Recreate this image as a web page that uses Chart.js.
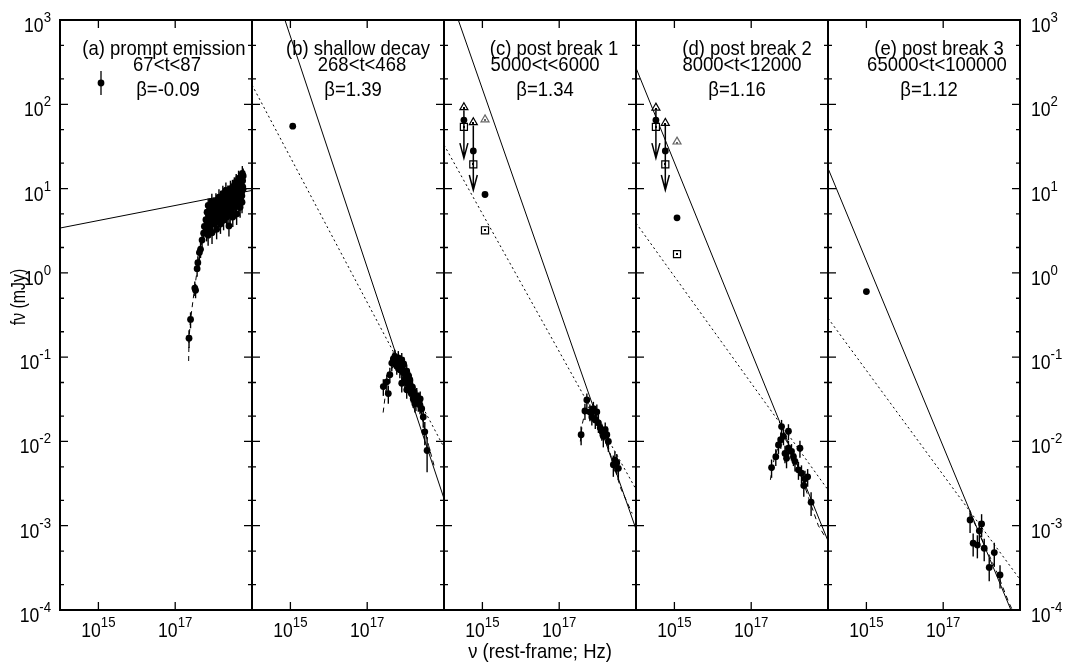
<!DOCTYPE html>
<html>
<head>
<meta charset="utf-8">
<script src="https://cdn.jsdelivr.net/npm/chart.js@4.4.1/dist/chart.umd.min.js"></script>
<style>
  html, body { margin: 0; background: #fff; }
  canvas { display: block; }
</style>
</head>
<body>
<canvas id="sed" width="1070" height="666"></canvas>
<script>
// panel labels
const panelNames = ['(a) prompt emission', '(b) shallow decay', '(c) post break 1', '(d) post break 2', '(e) post break 3'];
const panelTimes = ['67<t<87', '268<t<468', '5000<t<6000', '8000<t<12000', '65000<t<100000'];
const panelBetas = ['\u03b2=-0.09', '\u03b2=1.39', '\u03b2=1.34', '\u03b2=1.16', '\u03b2=1.12'];

// axis ranges and ticks
const nuRange = [1e14, 1e19];
const fluxRange = [1e-4, 1e3];
const nuTicks = [1e15, 1e17];
const fluxDecades = [1e-4, 1e-3, 1e-2, 1e-1, 1e0, 1e1, 1e2, 1e3];

// (a) prompt emission, X-ray / gamma spectrum
const aNu = [2.29e17, 2.51e17, 3.24e17, 3.39e17, 3.72e17, 3.89e17, 4.27e17, 4.57e17, 5.01e17, 5.5e17, 5.75e17, 6.31e17, 6.76e17, 7.24e17,
  6.6e17, 6.9e17, 7.2e17, 7.6e17, 7.9e17, 8.3e17, 8.7e17, 9.1e17, 9.5e17, 1.0e18, 1.05e18, 1.1e18, 1.15e18, 1.2e18, 1.26e18, 1.32e18,
  1.38e18, 1.45e18, 1.51e18, 1.58e18, 1.66e18, 1.74e18, 1.82e18, 1.9e18, 2.0e18, 2.09e18, 2.19e18, 2.29e18, 2.4e18, 2.51e18, 2.63e18,
  2.75e18, 2.88e18, 3.02e18, 3.16e18, 3.31e18, 3.47e18, 3.63e18, 3.8e18, 3.98e18, 4.17e18, 4.37e18, 4.57e18, 4.79e18, 5.01e18, 5.25e18,
  5.5e18, 5.75e18, 5.9e18, 5.6e18, 5.37e18, 5.13e18, 4.9e18, 4.47e18, 1.3e18, 1.7e18, 2.2e18, 2.7e18, 3.3e18, 3.9e18, 4.6e18, 8.0e17, 9.0e17,
  7.0e17, 7.4e17, 7.8e17, 8.1e17, 8.5e17, 8.9e17, 9.3e17, 9.8e17, 1.02e18, 1.08e18, 1.12e18, 1.18e18, 1.23e18, 1.28e18, 1.35e18, 1.42e18,
  1.48e18, 1.55e18, 1.62e18, 1.7e18, 1.78e18, 1.86e18, 1.95e18, 2.05e18, 2.15e18, 2.25e18, 2.35e18, 2.45e18, 2.58e18, 2.7e18, 2.82e18,
  2.95e18, 3.1e18, 3.25e18, 3.4e18, 3.55e18, 3.7e18, 3.88e18, 4.05e18, 4.25e18, 4.45e18, 4.65e18, 4.85e18, 5.05e18, 5.3e18, 5.45e18, 5.7e18, 5.85e18];
const aFlux = [0.168, 0.28, 0.66, 0.62, 1.12, 1.32, 1.74, 1.9, 2.45, 2.95, 3.55, 4.27, 5.25, 6.3,
  3.16, 3.8, 2.8, 4.6, 3.5, 5.5, 4.2, 3.0, 5.0, 6.3, 3.8, 4.8, 7.1, 3.3, 5.6, 4.4,
  7.9, 5.0, 3.8, 6.6, 5.8, 8.7, 4.2, 7.2, 5.2, 9.5, 4.6, 6.3, 7.9, 3.6, 6.9,
  10, 5.5, 8.3, 4.6, 7.2, 11, 6.0, 8.9, 5.0, 11.5, 7.6, 6.3, 10, 7.9, 12.6,
  6.9, 10.5, 14.1, 15.1, 9.1, 12, 6.0, 13.2, 6.0, 7.0, 6.6, 8.0, 9.5, 10.5, 9.0, 6.2, 7.0,
  4.0, 5.0, 3.9, 4.6, 6.0, 5.2, 4.0, 5.6, 4.6, 6.0, 4.0, 5.4, 6.8, 4.9, 5.9, 6.5,
  4.5, 7.6, 4.9, 5.4, 7.8, 5.9, 8.4, 6.5, 7.6, 5.2, 8.8, 6.0, 7.5, 5.0, 9.0,
  6.6, 10.2, 6.0, 8.0, 9.8, 7.0, 12.0, 8.4, 9.6, 11.0, 7.2, 11.8, 9.4, 10.8, 8.2, 12.4, 9.8];
const aErr = [0.04, 0.06, 0.13, 0.12, 0.22, 0.25, 0.35, 0.4, 0.5, 0.6, 0.7, 0.9, 1.1, 1.3,
  0.8, 0.9, 0.7, 1.1, 0.9, 1.3, 1.0, 0.8, 1.2, 1.5, 0.9, 1.2, 1.7, 0.8, 1.3, 1.1,
  1.9, 1.2, 0.9, 1.6, 1.4, 2.1, 1.0, 1.7, 1.3, 2.3, 1.1, 1.5, 1.9, 0.9, 1.7,
  2.4, 1.3, 2.0, 1.1, 1.7, 2.6, 1.5, 2.2, 1.3, 2.8, 1.9, 1.6, 2.5, 2.0, 3.0,
  1.8, 2.6, 3.2, 3.4, 2.3, 2.9, 1.5, 3.1, 1.4, 1.6, 1.6, 1.9, 2.3, 2.5, 2.2, 1.5, 1.7,
  1.0, 1.2, 1.0, 1.1, 1.4, 1.3, 1.0, 1.3, 1.1, 1.4, 1.0, 1.3, 1.6, 1.2, 1.4, 1.6,
  1.1, 1.8, 1.2, 1.3, 1.8, 1.4, 2.0, 1.6, 1.8, 1.3, 2.1, 1.5, 1.8, 1.3, 2.2,
  1.6, 2.5, 1.5, 2.0, 2.4, 1.8, 2.9, 2.1, 2.4, 2.7, 1.8, 2.9, 2.4, 2.7, 2.1, 3.0, 2.5];
const aModelNu = [2.24e17, 2.29e17, 2.51e17, 3.16e17, 3.98e17, 5.01e17, 7.08e17, 1e18, 2e18, 3.98e18, 6e18];
const aModelFlux = [0.09, 0.166, 0.28, 0.63, 1.32, 2.4, 4.17, 5.6, 7.6, 9.3, 10];

// (b) shallow decay
const bNu = [2.63e17, 3.24e17, 3.55e17, 3.89e17, 4.37e17, 4.79e17, 5.25e17, 5.62e17, 5.89e17, 6.46e17, 7.08e17, 7.94e17, 7.94e17, 8.71e17,
  8.91e17, 9.55e17, 1.0e18, 1.07e18, 1.07e18, 1.17e18, 1.2e18, 1.29e18, 1.41e18, 1.51e18, 1.58e18, 1.74e18, 1.86e18, 1.95e18, 2.14e18,
  2.37e18, 2.4e18, 2.63e18, 2.88e18, 3.16e18, 3.63e18, 6.8e17, 8.3e17, 1.12e18, 1.35e18, 1.66e18, 2.25e18];
const bFlux = [0.0447, 0.051, 0.037, 0.062, 0.085, 0.095, 0.102, 0.087, 0.078, 0.098, 0.071, 0.093, 0.049, 0.065,
  0.083, 0.054, 0.06, 0.068, 0.041, 0.047, 0.06, 0.054, 0.037, 0.044, 0.032, 0.028, 0.030, 0.035, 0.0295,
  0.027, 0.032, 0.0245, 0.0195, 0.013, 0.0078, 0.084, 0.077, 0.052, 0.046, 0.039, 0.031];
const bErr = [0.010, 0.011, 0.009, 0.013, 0.017, 0.019, 0.02, 0.018, 0.016, 0.02, 0.015, 0.019, 0.011, 0.014,
  0.017, 0.012, 0.013, 0.014, 0.009, 0.01, 0.013, 0.012, 0.008, 0.01, 0.007, 0.006, 0.007, 0.008, 0.007,
  0.006, 0.007, 0.006, 0.005, 0.004, 0.0035, 0.017, 0.016, 0.011, 0.01, 0.008, 0.007];
const bModelNu = [2.6e17, 3.16e17, 3.98e17, 5.62e17, 7.94e17, 1.26e18, 2e18, 3.16e18, 3.98e18, 5.62e18];
const bModelFlux = [0.022, 0.045, 0.068, 0.089, 0.085, 0.056, 0.032, 0.014, 0.0089, 0.005];
const bOptNu = [1.15e15];
const bOptFlux = [55];

// (c) post break 1
const cNu = [3.72e17, 4.68e17, 5.25e17, 6.31e17, 7.08e17, 7.76e17, 8.71e17, 9.55e17, 1.05e18, 1.17e18, 1.29e18, 1.41e18, 1.58e18,
  1.74e18, 1.91e18, 2.57e18, 2.82e18, 3.16e18, 3.47e18];
const cFlux = [0.012, 0.023, 0.031, 0.0224, 0.0195, 0.0245, 0.018, 0.0224, 0.0166, 0.0145, 0.0132, 0.0115, 0.0138,
  0.012, 0.010, 0.0053, 0.006, 0.0056, 0.0048];
const cErr = [0.003, 0.005, 0.006, 0.005, 0.004, 0.005, 0.004, 0.005, 0.004, 0.003, 0.003, 0.003, 0.003,
  0.003, 0.0025, 0.0015, 0.0016, 0.0015, 0.0013];
const cModelNu = [3.55e17, 3.98e17, 5.01e17, 7.08e17, 1e18, 1.58e18, 2.51e18, 3.98e18, 7.94e18];
const cModelFlux = [0.01, 0.016, 0.025, 0.026, 0.02, 0.0112, 0.0056, 0.0028, 0.0014];

// optical / UV points for (c) and (d)
const optNu = [3.3e14, 5.8e14, 1.17e15];
const cTriFlux = [92, 61, 66];
const cDotFlux = [65, 28, 8.5];
const cSqFlux = [54, 19.4, 3.2];
const dTriFlux = [91, 60, 36];
const dDotFlux = [65, 28, 4.5];
const dSqFlux = [54, 19.4, 1.67];
const limitTo = [23, 9.6, null];

// (d) post break 2
const dNu = [3.39e17, 4.37e17, 5.13e17, 5.89e17, 6.17e17, 6.92e17, 7.59e17, 8.32e17, 9.33e17, 9.33e17, 1.12e18, 1.26e18, 1.38e18,
  1.7e18, 1.86e18, 2.04e18, 2.34e18, 2.51e18, 2.95e18, 3.63e18];
const dFlux = [0.0049, 0.0066, 0.0091, 0.0105, 0.015, 0.0115, 0.0072, 0.0063, 0.0132, 0.0083, 0.0076, 0.0066, 0.0058,
  0.0046, 0.0083, 0.0042, 0.003, 0.0036, 0.0038, 0.0019];
const dErr = [0.0012, 0.0015, 0.002, 0.0023, 0.003, 0.0025, 0.0017, 0.0015, 0.0028, 0.0019, 0.0017, 0.0015, 0.0014,
  0.0011, 0.0019, 0.001, 0.0008, 0.0009, 0.0009, 0.0006];
const dModelNu = [3.16e17, 3.98e17, 5.62e17, 7.94e17, 1.26e18, 2e18, 3.16e18, 5.62e18, 8.9e18];
const dModelFlux = [0.0035, 0.0063, 0.01, 0.0105, 0.0071, 0.004, 0.0021, 0.001, 0.00071];

// (e) post break 3
const eNu = [5.01e17, 1.0e18, 8.71e17, 6.03e17, 7.76e17, 1.17e18, 2.14e18, 1.58e18, 3.02e18];
const eFlux = [1.17e-3, 1.05e-3, 8.7e-4, 6.2e-4, 5.9e-4, 5.4e-4, 4.8e-4, 3.2e-4, 2.6e-4];
const eErr = [3.5e-4, 3.2e-4, 2.6e-4, 1.9e-4, 1.8e-4, 1.6e-4, 1.5e-4, 1.0e-4, 0.8e-4];
const eModelNu = [5e17, 7.9e17, 1.26e18, 2.51e18, 5e18, 7.1e18];
const eModelFlux = [1.4e-3, 8.9e-4, 5.6e-4, 2.8e-4, 1.26e-4, 8.9e-5];
const eOptNu = [1e15];
const eOptFlux = [0.6];

// power-law fits (solid) and the same shifted by 0.5 (dotted), at nuRange ends
const solidFlux = [[3.4, 9.5], [1.5e4, 2.1e-3], [3060, 9.1e-4], [270, 6.6e-4], [17.4, 5.5e-5]];
const dottedFlux = [null, [170, 8.5e-3], [33, 2.7e-3], [3.9, 2.66e-3], [0.29, 2.3e-4]];

const FONT = '"Liberation Sans", Arial, sans-serif';

function pts(xs, ys) {
  return xs.map((x, i) => ({ x: x, y: ys[i] }));
}

function xray(p, nu, flux, err) {
  return { xAxisID: 'x' + p, data: pts(nu, flux), errs: err, pointStyle: 'circle', pointRadius: 3.4,
    backgroundColor: '#000', borderColor: '#000', borderWidth: 0 };
}
function dots(p, nu, flux) {
  return { xAxisID: 'x' + p, data: pts(nu, flux), pointStyle: 'circle', pointRadius: 3.4,
    backgroundColor: '#000', borderColor: '#000', borderWidth: 0 };
}
function hollow(p, nu, flux, style, radius, colors, arrows) {
  return { xAxisID: 'x' + p, data: pts(nu, flux), pointStyle: style, pointRadius: radius,
    backgroundColor: '#fff', borderColor: colors, borderWidth: 1.2, centerDot: true, arrowTo: arrows };
}
function curve(p, nu, flux, dash) {
  return { xAxisID: 'x' + p, data: pts(nu, flux), showLine: true, pointRadius: 0, borderColor: '#000',
    borderWidth: 1, borderDash: dash, fill: false };
}

const triColors = ['#000', '#000', '#666'];
const datasets = [
  hollow(2, optNu, cTriFlux, 'triangle', 4.6, triColors, limitTo),
  hollow(3, optNu, dTriFlux, 'triangle', 4.6, triColors, limitTo),
  dots(2, optNu, cDotFlux),
  dots(3, optNu, dDotFlux),
  hollow(2, optNu, cSqFlux, 'rect', 5, '#000', null),
  hollow(3, optNu, dSqFlux, 'rect', 5, '#000', null),
  xray(0, aNu, aFlux, aErr),
  xray(1, bNu, bFlux, bErr),
  xray(2, cNu, cFlux, cErr),
  xray(3, dNu, dFlux, dErr),
  xray(4, eNu, eFlux, eErr),
  dots(1, bOptNu, bOptFlux),
  dots(4, eOptNu, eOptFlux),
  curve(0, aModelNu, aModelFlux, [5, 4]),
  curve(1, bModelNu, bModelFlux, [5, 4]),
  curve(2, cModelNu, cModelFlux, [5, 4]),
  curve(3, dModelNu, dModelFlux, [5, 4]),
  curve(4, eModelNu, eModelFlux, [5, 4])
];
solidFlux.forEach((f, p) => datasets.push(curve(p, nuRange, f, [])));
dottedFlux.forEach((f, p) => { if (f) datasets.push(curve(p, nuRange, f, [2, 3])); });

// text drawn slightly condensed, like the original postscript output
function say(ctx, s, x, y, size, align) {
  ctx.save();
  ctx.translate(x, y);
  ctx.scale(0.88, 1);
  ctx.font = size + 'px ' + FONT;
  ctx.textAlign = align || 'center';
  ctx.textBaseline = 'alphabetic';
  ctx.fillStyle = '#000';
  ctx.fillText(s, 0, 0);
  ctx.restore();
}
function power(ctx, value, x, y, align) {
  const exp = String(Math.round(Math.log10(value)));
  ctx.font = '20px ' + FONT;
  const w1 = ctx.measureText('10').width * 0.88;
  ctx.font = '15px ' + FONT;
  const w2 = ctx.measureText(exp).width * 0.88;
  const left = align === 'right' ? x - w1 - w2 : align === 'left' ? x : x - (w1 + w2) / 2;
  say(ctx, '10', left, y, 20, 'left');
  say(ctx, exp, left + w1, y - 10, 15, 'left');
}

const sedFrame = {
  id: 'sedFrame',
  beforeDatasetsDraw(chart) {
    const ctx = chart.ctx, ys = chart.scales.y, area = chart.chartArea;
    ctx.save();
    ctx.strokeStyle = '#000';
    ctx.lineWidth = 1.4;
    chart.data.datasets.forEach((ds, di) => {
      if (!ds.errs) return;
      chart.getDatasetMeta(di).data.forEach((pt, i) => {
        const v = ds.data[i].y, e = ds.errs[i];
        const top = ys.getPixelForValue(v + e);
        const bot = v - e > 0 ? Math.min(ys.getPixelForValue(v - e), area.bottom) : area.bottom;
        ctx.beginPath();
        ctx.moveTo(pt.x, top);
        ctx.lineTo(pt.x, bot);
        ctx.stroke();
      });
    });
    ctx.restore();
  },
  afterDatasetsDraw(chart) {
    const ctx = chart.ctx, ys = chart.scales.y;
    ctx.save();
    chart.data.datasets.forEach((ds, di) => {
      const meta = chart.getDatasetMeta(di);
      if (ds.arrowTo) {
        ctx.strokeStyle = '#000';
        ctx.lineWidth = 1.5;
        meta.data.forEach((pt, i) => {
          const to = ds.arrowTo[i];
          if (!to) return;
          const yEnd = ys.getPixelForValue(to);
          ctx.beginPath();
          ctx.moveTo(pt.x, pt.y + 3);
          ctx.lineTo(pt.x, yEnd);
          ctx.moveTo(pt.x - 4, yEnd - 15);
          ctx.lineTo(pt.x, yEnd);
          ctx.lineTo(pt.x + 4, yEnd - 15);
          ctx.stroke();
        });
      }
      if (ds.centerDot) {
        meta.data.forEach((pt, i) => {
          const c = Array.isArray(ds.borderColor) ? ds.borderColor[i] : ds.borderColor;
          ctx.fillStyle = c;
          ctx.fillRect(Math.round(pt.x) - 1, Math.round(pt.y) - 1 + (ds.pointStyle === 'triangle' ? 1 : 0), 2, 2);
        });
      }
    });
    ctx.restore();
  },
  afterDraw(chart) {
    const ctx = chart.ctx, area = chart.chartArea, ys = chart.scales.y;
    ctx.save();
    ctx.strokeStyle = '#000';
    ctx.fillStyle = '#000';

    // frame and panel borders
    ctx.lineWidth = 2;
    ctx.strokeRect(area.left, area.top, area.right - area.left, area.bottom - area.top);
    const borders = [];
    for (let p = 1; p < 5; p++) borders.push(chart.scales['x' + p].left);
    borders.forEach(bx => {
      ctx.beginPath(); ctx.moveTo(bx, area.top); ctx.lineTo(bx, area.bottom); ctx.stroke();
    });

    // y ticks on every vertical border, pointing inwards
    ctx.lineWidth = 1.3;
    const yTickVals = [];
    fluxDecades.forEach((d, k) => {
      yTickVals.push([d, 8]);
      if (k < fluxDecades.length - 1) { yTickVals.push([d * 2, 4]); yTickVals.push([d * 5, 4]); }
    });
    yTickVals.forEach(([v, len]) => {
      const py = ys.getPixelForValue(v);
      ctx.beginPath();
      ctx.moveTo(area.left, py); ctx.lineTo(area.left + len, py);
      ctx.moveTo(area.right - len, py); ctx.lineTo(area.right, py);
      borders.forEach(bx => { ctx.moveTo(bx - len, py); ctx.lineTo(bx + len, py); });
      ctx.stroke();
    });

    // x ticks, top and bottom of each panel
    for (let p = 0; p < 5; p++) {
      const xs = chart.scales['x' + p];
      nuTicks.forEach(t => {
        const px = xs.getPixelForValue(t);
        ctx.beginPath();
        ctx.moveTo(px, area.bottom); ctx.lineTo(px, area.bottom - 8);
        ctx.moveTo(px, area.top); ctx.lineTo(px, area.top + 8);
        ctx.stroke();
        power(ctx, t, px, area.bottom + 27, 'center');
      });
    }

    // y tick labels both sides
    fluxDecades.forEach(d => {
      const py = ys.getPixelForValue(d);
      power(ctx, d, area.left - 9, py + 12, 'right');
      power(ctx, d, area.right + 11, py + 12, 'left');
    });

    // axis titles
    say(ctx, '\u03bd (rest-frame; Hz)', (area.left + area.right) / 2, 658, 21, 'center');
    ctx.save();
    ctx.translate(25, 297);
    ctx.rotate(-Math.PI / 2);
    ctx.scale(0.9, 1);
    say(ctx, 'f\u03bd (mJy)', 0, 0, 20, 'center');
    ctx.restore();

    // panel captions
    const nameOff = [104, 106, 110, 111, 111];
    const timeOff = [107, 110, 101, 106, 109];
    const betaOff = [108, 101, 101, 101, 101];
    for (let p = 0; p < 5; p++) {
      const left = chart.scales['x' + p].left;
      say(ctx, panelNames[p], left + nameOff[p], area.top + 35, 21, 'center');
      say(ctx, panelTimes[p], left + timeOff[p], area.top + 51, 21, 'center');
      say(ctx, panelBetas[p], left + betaOff[p], area.top + 76, 21, 'center');
    }

    // key symbol in panel (a)
    const kx = chart.scales.x0.left + 41, ky = area.top + 63;
    ctx.lineWidth = 1.3;
    ctx.beginPath(); ctx.moveTo(kx, ky - 12); ctx.lineTo(kx, ky + 12); ctx.stroke();
    ctx.beginPath(); ctx.arc(kx, ky, 3.4, 0, Math.PI * 2); ctx.fill();
    ctx.restore();
  }
};

const xAxis = () => ({
  type: 'logarithmic', position: 'bottom', stack: 'panels', min: nuRange[0], max: nuRange[1],
  grid: { display: false }, border: { display: false }, ticks: { display: false },
  afterFit(s) { s.height = 0; }
});

new Chart(document.getElementById('sed'), {
  type: 'scatter',
  data: { datasets: datasets },
  options: {
    responsive: false,
    animation: false,
    events: [],
    layout: { padding: { left: 60, right: 50, top: 20, bottom: 56 } },
    plugins: { legend: { display: false }, tooltip: { enabled: false } },
    scales: {
      x0: xAxis(), x1: xAxis(), x2: xAxis(), x3: xAxis(), x4: xAxis(),
      y: {
        type: 'logarithmic', position: 'left', min: fluxRange[0], max: fluxRange[1],
        grid: { display: false }, border: { display: false }, ticks: { display: false },
        afterFit(s) { s.width = 0; }
      }
    }
  },
  plugins: [sedFrame]
});
</script>
</body>
</html>
